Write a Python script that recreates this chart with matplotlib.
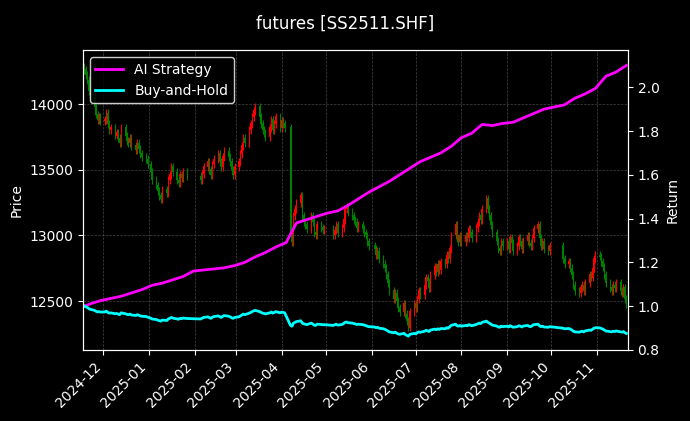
import numpy as np
import pandas as pd
import matplotlib
matplotlib.use("Agg")
import matplotlib.pyplot as plt
import matplotlib.dates as mdates

# ---- data (monthly lists of daily closes) ----
close_nov24 = [14260, 14220, 14180, 14100, 14050, 13980, 13920, 13880, 13900, 13870]
close_dec24 = [13880, 13930, 13850, 13800, 13820, 13760, 13780, 13740, 13700, 13820, 13760,
               13720, 13700, 13740, 13680, 13650, 13700, 13660, 13620, 13600, 13580, 13540]
close_jan25 = [13480, 13420, 13380, 13340, 13300, 13280, 13350, 13320, 13420, 13460, 13520,
               13480, 13420, 13400, 13460, 13440, 13480, 13450]
close_feb25 = [13420, 13470, 13520, 13560, 13500, 13460, 13540, 13580, 13620, 13560, 13520,
               13600, 13640, 13600, 13560, 13500, 13460, 13520]
close_mar25 = [13560, 13620, 13680, 13740, 13700, 13800, 13850, 13900, 13950, 13980, 13900,
               13850, 13800, 13780, 13750, 13820, 13880, 13800, 13850, 13900, 13820]
close_apr25 = [13870, 13850, 13820, 13000, 12950, 13150, 13200, 13250, 13300, 13150, 13100,
               13080, 13050, 13150, 13100, 13020, 13000, 13080, 13060, 13040, 13050]
close_may25 = [13000, 13040, 13080, 13020, 13060, 13120, 13200, 13220, 13180, 13150, 13120,
               13100, 13060, 13080, 13050, 13020, 13000, 12950, 12920]
close_jun25 = [12900, 12850, 12880, 12820, 12780, 12750, 12700, 12640, 12580, 12520, 12560,
               12500, 12450, 12420, 12480, 12400, 12350, 12300, 12420, 12480]
close_jul25 = [12450, 12520, 12580, 12550, 12620, 12680, 12650, 12600, 12700, 12760, 12720,
               12780, 12740, 12800, 12780, 12850, 12820, 12900, 13000, 13080, 12980, 12950, 13000]
close_aug25 = [12950, 13000, 12980, 13050, 13020, 12980, 13060, 13100, 13150, 13120, 13200,
               13280, 13200, 13150, 13080, 13020, 12960, 12900, 12880, 12950, 12920]
close_sep25 = [12950, 12900, 12980, 12940, 12880, 12920, 12980, 12950, 12900, 12960, 13000,
               12940, 12920, 12980, 13050, 13080, 12980, 12920, 12950, 12900, 12880, 12920]
close_oct25 = [12820, 12780, 12800, 12750, 12700, 12620, 12580, 12560, 12600, 12620, 12580,
               12640, 12700, 12680, 12750, 12820, 12850]
close_nov25 = [12840, 12800, 12760, 12700, 12640, 12600, 12580, 12620, 12600, 12640, 12580,
               12560, 12600, 12520, 12480]
first_open = 14280

ai_weekly = [1.000, 1.010, 1.025, 1.035, 1.045, 1.060, 1.075, 1.095, 1.105, 1.120, 1.135,
             1.160, 1.165, 1.170, 1.175, 1.185, 1.200, 1.225, 1.245, 1.270, 1.290, 1.380,
             1.395, 1.410, 1.425, 1.435, 1.460, 1.490, 1.520, 1.545, 1.570, 1.600, 1.630,
             1.660, 1.680, 1.700, 1.730, 1.770, 1.790, 1.830, 1.825, 1.835, 1.840, 1.860,
             1.880, 1.900, 1.910, 1.920, 1.950, 1.970, 1.995, 2.050, 2.070, 2.100]

holidays = ["2025-01-01", "2025-01-28", "2025-01-29", "2025-01-30", "2025-01-31",
            "2025-02-03", "2025-02-04", "2025-04-04", "2025-05-01", "2025-05-02",
            "2025-05-05", "2025-06-02", "2025-10-01", "2025-10-02", "2025-10-03",
            "2025-10-06", "2025-10-07", "2025-10-08"]

# ---- build trading dates ----
days = pd.bdate_range("2024-11-18", "2025-11-21")
days = days[~days.isin(pd.to_datetime(holidays))]
months = [close_nov24, close_dec24, close_jan25, close_feb25, close_mar25, close_apr25,
          close_may25, close_jun25, close_jul25, close_aug25, close_sep25, close_oct25,
          close_nov25]
dates, closes = [], []
periods = days.to_period("M")
for per, vals in zip(periods.unique(), months):
    d = days[periods == per]
    for dd, v in zip(d, vals):
        dates.append(dd)
        closes.append(v)
dates = pd.DatetimeIndex(dates)
closes = np.array(closes, float)
opens = np.concatenate([[first_open], closes[:-1]])
wick = 30
highs = np.maximum(opens, closes) + wick
lows = np.minimum(opens, closes) - wick
bh = closes / closes[0]

wdates = [pd.Timestamp("2024-11-18")] + list(pd.date_range("2024-11-22", "2025-11-21", freq="W-FRI"))

# ---- plot ----
plt.rcParams['font.family'] = ['DejaVu Sans']
fig = plt.figure(figsize=(6.9, 4.21), dpi=100, facecolor='black')
ax = fig.add_axes([0.12, 0.169, 0.79, 0.712])
ax.set_facecolor('black')
colors = np.where(closes >= opens, 'red', 'green')
x = mdates.date2num(dates)
ax.vlines(x, lows, highs, colors=colors, linewidth=0.8)
ax.bar(x, np.abs(closes - opens) + 5, bottom=np.minimum(opens, closes), width=0.8,
       color=colors, linewidth=0)
ax.set_ylim(12130, 14410)
ax.set_xlim(mdates.date2num(pd.Timestamp("2024-11-17")), mdates.date2num(pd.Timestamp("2025-11-22")))
ax.set_ylabel("Price", color='white')
ax.grid(True, color='#555555', linestyle='--', linewidth=0.5, alpha=0.8)
ax.xaxis.set_major_locator(mdates.MonthLocator())
ax.xaxis.set_major_formatter(mdates.DateFormatter("%Y-%m"))
plt.setp(ax.get_xticklabels(), rotation=45, ha='right')

ax2 = ax.twinx()
l1, = ax2.plot(wdates, ai_weekly, color='magenta', lw=2, label='AI Strategy')
l2, = ax2.plot(dates, bh, color='cyan', lw=2, label='Buy-and-Hold')
ax2.set_ylim(0.8, 2.17)
ax2.set_ylabel("Return", color='white')

for a in (ax, ax2):
    a.tick_params(colors='white')
    for s in a.spines.values():
        s.set_color('white')

leg = ax2.legend(handles=[l1, l2], loc='upper left', facecolor='black', edgecolor='white')
for t in leg.get_texts():
    t.set_color('white')
fig.suptitle("futures [SS2511.SHF]", color='white', y=0.965)
fig.savefig("out.png", facecolor='black')
